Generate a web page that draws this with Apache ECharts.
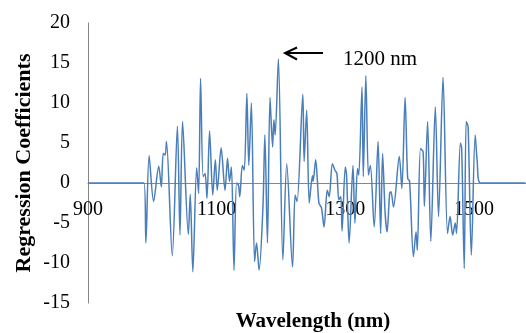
<!DOCTYPE html>
<html>
<head>
<meta charset="utf-8">
<script src="https://cdn.jsdelivr.net/npm/echarts@6/dist/echarts.min.js"></script>
<style>
  html, body { margin: 0; padding: 0; background: #fff; }
  #chart { width: 526px; height: 333px; }
</style>
</head>
<body>
<div id="chart"></div>
<script>
const wavelength = [900, 987, 990, 995, 1002, 1010, 1014, 1017, 1020, 1022,
  1031, 1039, 1043, 1047, 1056, 1059, 1063, 1069, 1072, 1075,
  1079, 1082, 1085, 1089, 1094, 1098, 1101, 1107, 1113, 1117,
  1120, 1123, 1127, 1131, 1134, 1136, 1140, 1143, 1147, 1150,
  1154, 1159, 1162, 1166, 1172, 1175, 1179, 1183, 1187, 1189,
  1191, 1196, 1203, 1209, 1218, 1222, 1225, 1234, 1236, 1240,
  1244, 1249, 1250, 1254, 1259, 1263, 1267, 1272, 1275, 1280,
  1284, 1287, 1290, 1293, 1295, 1300, 1302, 1306, 1312, 1315,
  1319, 1321, 1326, 1328, 1332, 1336, 1339, 1345, 1351, 1355,
  1358, 1362, 1365, 1369, 1371, 1375, 1384, 1388, 1393, 1397,
  1400, 1406, 1410, 1412, 1417, 1421, 1423, 1428, 1433, 1440,
  1445, 1452, 1459, 1463, 1467, 1471, 1473, 1479, 1481, 1485,
  1488, 1491, 1496, 1502, 1505, 1510, 1580]

const coefficients = [0, 0, -7.5, 3.4, -2.3, 2.1, -0.5, 3.7, 3.5, 5.2,
  -9.1, 7.1, -6.5, 7.7, -6.4, -1.4, -11.1, 1.9, -1.3, 13.1,
  0.8, 1.2, -1.9, 6.5, -1.5, 2.9, -0.9, 4.4, -0.9, 3.1,
  0.2, 2.0, -10.9, 0, -0.3, -1.7, 2.2, 1.6, 11.2, 2.2,
  10.0, -9.8, -7.5, -10.9, -3.0, 6.0, -7.5, 10.7, 4.5, 7.9,
  6.0, 15.5, -9.6, 2.4, -10.5, -1.5, -2.3, 11.1, 2.7, 9.1,
  -2.5, 0.9, 0.2, 2.9, -2.5, -3.1, -5.5, -0.9, -1.7, 2.4,
  1.6, 1.2, -2.1, -1.7, -6.0, 2.0, 1.0, -7.5, 2.2, -5.0,
  1.8, 1.0, 12.0, 0.8, 13.4, 1.0, 2.2, -5.5, 5.2, -6.3,
  3.7, -3.8, -6.1, -1.3, -1.1, -3.0, 3.3, -0.7, 10.7, 0.6,
  0.2, -9.2, -6.1, -8.4, 4.3, 3.9, -2.9, 7.7, -7.3, 9.5,
  -4.2, 13.2, -6.3, -4.2, -6.5, -5.0, -6.3, 5.0, 4.3, -10.7,
  7.7, 7.0, -9.0, 6.0, 2.9, 0, 0]

const serif = '"Times New Roman", "Liberation Serif", serif'
const axisGray = '#868686'

const chart = echarts.init(document.getElementById('chart'))
chart.setOption({
  animation: false,
  grid: { left: 88, right: 0, top: 23, bottom: 30 },
  xAxis: {
    type: 'value',
    min: 900,
    max: 1581, // picture is cut off at the right edge
    interval: 200,
    // axis sits on the zero line: 15 of 35 units up a 280px tall grid
    offset: -120,
    axisLine: { onZero: false, lineStyle: { color: axisGray, width: 1 } },
    axisTick: { show: false },
    splitLine: { show: false },
    axisLabel: {
      margin: 17, fontFamily: serif, fontSize: 20, color: '#000', showMaxLabel: false,
      formatter: v => String(v)
    }
  },
  yAxis: {
    type: 'value',
    min: -15,
    max: 20,
    interval: 5,
    axisLine: { show: true, onZero: false, lineStyle: { color: axisGray, width: 1 } },
    axisTick: { show: false },
    splitLine: { show: false },
    axisLabel: { margin: 18, fontFamily: serif, fontSize: 20, color: '#000' }
  },
  series: [{
    type: 'line',
    data: wavelength.map((w, i) => [w, coefficients[i]]),
    showSymbol: false,
    smooth: 0.3,
    lineStyle: { color: '#4a7ebb', width: 1.5 }
  }],
  graphic: [
    {
      type: 'text', x: 24, y: 163, rotation: Math.PI / 2,
      style: { text: 'Regression Coefficients', font: 'bold 22px ' + serif, fill: '#000', align: 'center', verticalAlign: 'middle' }
    },
    {
      type: 'text', x: 313, y: 322,
      style: { text: 'Wavelength (nm)', font: 'bold 21px ' + serif, fill: '#000', align: 'center', verticalAlign: 'middle' }
    },
    {
      type: 'polyline',
      shape: { points: [[323, 53], [286, 53]] },
      style: { stroke: '#000', lineWidth: 2, fill: null }
    },
    {
      type: 'polyline',
      shape: { points: [[297, 47.5], [285, 53], [297, 59.5]] },
      style: { stroke: '#000', lineWidth: 2, fill: null }
    },
    {
      type: 'text', x: 343, y: 59,
      style: { text: '1200 nm', font: '21px ' + serif, fill: '#000', align: 'left', verticalAlign: 'middle' }
    }
  ]
})
</script>
</body>
</html>
